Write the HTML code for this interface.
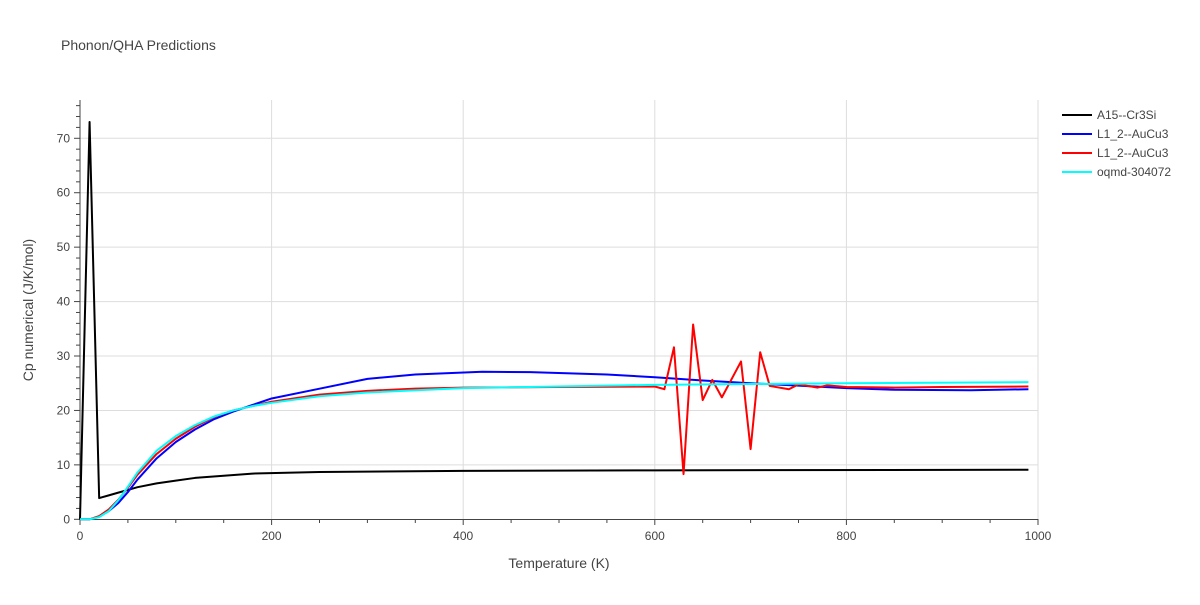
<!DOCTYPE html>
<html><head><meta charset="utf-8"><style>
body{margin:0;background:#fff;font-family:"Liberation Sans",sans-serif}
svg text{font-family:"Liberation Sans",sans-serif;fill:#444}
</style></head><body>
<svg id="chart" width="1200" height="600" xmlns="http://www.w3.org/2000/svg">
<rect width="1200" height="600" fill="#fff"/>
<text x="61" y="50" font-size="14" style="fill:#444">Phonon/QHA Predictions</text>
<g id="grid"></g><g id="axes"></g><g id="series"></g><g id="legend"></g>
<text x="559" y="568" font-size="14" text-anchor="middle">Temperature (K)</text>
<text transform="translate(33,310) rotate(-90)" font-size="14" text-anchor="middle">Cp numerical (J/K/mol)</text>
</svg>
<script>
const blackX=[0,10,20,30,40,50,60,80,100,120,150,180,250,400,600,990];
const blackY=[0,73,3.9,4.4,4.9,5.4,5.9,6.6,7.1,7.6,8.0,8.4,8.7,8.9,9.0,9.1];
const blueX=[0,10,20,30,40,50,60,80,100,120,140,160,180,200,250,300,350,420,470,550,600,650,700,800,850,930,990];
const blueY=[0,0,0.5,1.5,3,5,7.3,11.2,14.2,16.5,18.4,19.8,21,22.2,24,25.8,26.6,27.1,27.05,26.6,26.1,25.5,25,24.1,23.8,23.7,23.9];
const redX=[0,10,20,30,40,50,60,80,100,120,140,160,180,200,250,300,350,400,500,600,610,620,630,640,650,660,670,690,700,710,720,740,750,770,780,800,850,900,990];
const redY=[0,0,0.6,1.8,3.6,5.8,8.2,12,14.8,17,18.8,20,20.8,21.6,22.9,23.6,24,24.2,24.3,24.4,23.9,31.6,8.3,35.8,21.9,25.6,22.4,29,12.9,30.7,24.5,23.9,24.8,24.2,24.6,24.3,24.2,24.3,24.4];
const cyanX=[0,10,20,30,40,50,60,80,100,120,140,160,180,200,250,300,400,600,800,990];
const cyanY=[0,0,0.4,1.5,3.5,6,8.6,12.6,15.3,17.3,18.9,20,20.8,21.4,22.6,23.3,24.1,24.7,25,25.2];
const xTicks=[0,200,400,600,800,1000];
const yTicks=[0,10,20,30,40,50,60,70];
const names=["A15--Cr3Si","L1_2--AuCu3","L1_2--AuCu3","oqmd-304072"];
const colors=["#000","#00f","#f00","#0ff"];
const NS="http://www.w3.org/2000/svg";
const sx=v=>80+v*0.958, sy=v=>519.3-v*5.443;
function mk(tag,attrs,parent){const e=document.createElementNS(NS,tag);for(const k in attrs)e.setAttribute(k,attrs[k]);document.getElementById(parent).appendChild(e);return e;}
xTicks.forEach(t=>{
 if(t>0){const g=mk('line',{x1:sx(t),x2:sx(t),y1:100,y2:519,stroke:'#ddd'},'grid');
 
 }
 const tx=mk('text',{x:sx(t),y:540,'font-size':12,'text-anchor':'middle'},'axes');tx.textContent=t;
 
 
});
for(let t=0;t<=1000;t+=50){const l=mk('line',{x1:sx(t),x2:sx(t),y1:519,y2:t%200==0?525:523,stroke:'#444'},'axes');
 
 }
yTicks.forEach(t=>{
 if(t>0){const g=mk('line',{x1:80,x2:1038,y1:sy(t),y2:sy(t),stroke:'#ddd'},'grid');
 
 }
 const tx=mk('text',{x:70,y:sy(t)+4,'font-size':12,'text-anchor':'end'},'axes');tx.textContent=t;
 
 
});
for(let t=0;t<=76;t+=2){const l=mk('line',{x1:t%10==0?74:76,x2:80,y1:sy(t),y2:sy(t),stroke:'#444'},'axes');
 
 }
const ax=mk('line',{x1:80,x2:80,y1:100,y2:520,stroke:'#444'},'axes');


const ax2=mk('line',{x1:79,x2:1038,y1:519.5,y2:519.5,stroke:'#444'},'axes');


const sets=[[blackX,blackY],[blueX,blueY],[redX,redY],[cyanX,cyanY]];
const snames=['series-a15-cr3si','series-l12-aucu3-blue','series-l12-aucu3-red','series-oqmd-304072'];
sets.forEach((s,i)=>{
 const p=mk('polyline',{points:s[0].map((x,j)=>sx(x)+','+sy(s[1][j])).join(' '),fill:'none',stroke:colors[i],'stroke-width':2,'stroke-linejoin':'round'},'series');
 
 
 const y=115+i*19;
 const l=mk('line',{x1:1062,x2:1092,y1:y,y2:y,stroke:colors[i],'stroke-width':2},'legend');
 
 
 const t=mk('text',{x:1097,y:y+4,'font-size':12},'legend');t.textContent=names[i];
 
 
});
</script>
</body></html>
